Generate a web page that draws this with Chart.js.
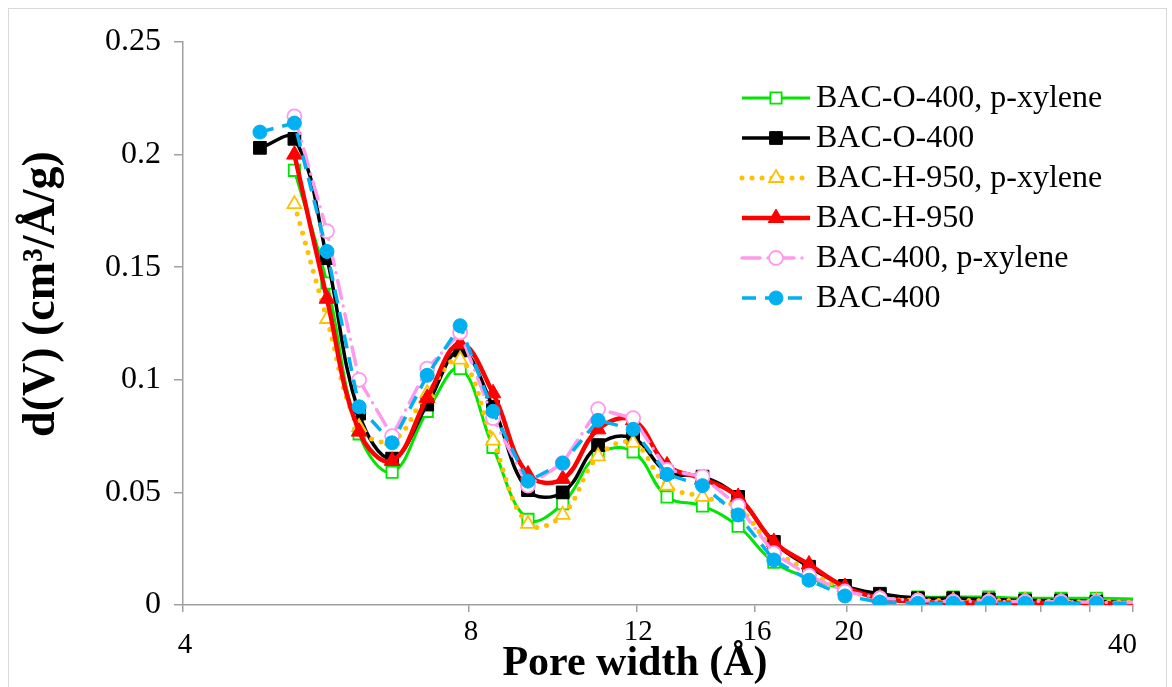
<!DOCTYPE html>
<html>
<head>
<meta charset="utf-8">
<script src="https://cdn.jsdelivr.net/npm/chart.js@4.4.1/dist/chart.umd.min.js"></script>
<style>
  body { margin: 0; background: #fff; }
  #wrap { position: relative; width: 1172px; height: 687px; overflow: hidden; }
  #frame { position: absolute; left: 8px; top: 8px; width: 1157px; height: 700px; border: 1px solid #d9d9d9; }
  #poreChart { position: absolute; left: 0; top: 0; }
</style>
</head>
<body>
<div id="wrap">
  <div id="frame"></div>
  <canvas id="poreChart" width="1172" height="687"></canvas>
</div>
<script>
// Pore widths (Å); the last point lies past 40 and gets clipped at the axis end
const poreWidth = [4.82, 5.24, 5.67, 6.13, 6.64, 7.23, 7.83, 8.48, 9.23, 10.04, 10.94, 11.91, 12.93,
  14.09, 15.36, 16.75, 18.24, 19.9, 21.66, 23.75, 25.87, 28.2, 30.8, 33.6, 36.6, 42];

// d(V) in cm3/Å/g for each sample
const bacO400Xylene = [null, 0.193, 0.143, 0.076, 0.059, 0.086, 0.105, 0.070, 0.038, 0.045, 0.067, 0.068, 0.048,
  0.044, 0.035, 0.019, 0.012, 0.007, 0.004, 0.0035, 0.0035, 0.0035, 0.003, 0.003, 0.003, 0.0025];
const bacO400 = [0.203, 0.207, 0.154, 0.085, 0.065, 0.089, 0.113, 0.088, 0.051, 0.050, 0.071, 0.074, 0.059,
  0.057, 0.048, 0.028, 0.017, 0.0085, 0.005, 0.003, 0.003, 0.0025, 0.002, 0.002, 0.0015, 0.001];
const bacH950Xylene = [null, 0.178, 0.127, 0.079, 0.073, 0.094, 0.109, 0.073, 0.036, 0.040, 0.066, 0.072, 0.053,
  0.048, 0.043, 0.025, 0.015, 0.007, 0.003, 0.002, 0.002, 0.002, 0.002, 0.0015, 0.0015, 0.001];
const bacH950 = [null, 0.200, 0.136, 0.077, 0.064, 0.092, 0.116, 0.094, 0.058, 0.056, 0.078, 0.082, 0.062,
  0.056, 0.048, 0.028, 0.018, 0.008, 0.003, 0.0015, 0.001, 0.001, 0.001, 0.0008, 0.0008, 0.0005];
const bac400Xylene = [null, 0.217, 0.166, 0.100, 0.075, 0.105, 0.121, 0.083, 0.053, 0.063, 0.087, 0.083, 0.060,
  0.057, 0.044, 0.023, 0.013, 0.006, 0.003, 0.002, 0.0015, 0.0015, 0.0015, 0.0015, 0.0012, 0.001];
const bac400 = [0.210, 0.214, 0.157, 0.088, 0.072, 0.102, 0.124, 0.086, 0.055, 0.063, 0.082, 0.078, 0.058,
  0.053, 0.040, 0.020, 0.011, 0.004, 0.0013, 0.0008, 0.0008, 0.0008, 0.0008, 0.0008, 0.0008, 0.0008];

const seriesNames = ['BAC-O-400, p-xylene', 'BAC-O-400', 'BAC-H-950, p-xylene', 'BAC-H-950', 'BAC-400, p-xylene', 'BAC-400'];

// axis ticks
const xTicks = [4, 8, 12, 16, 20, 24, 28, 32, 36, 40];
const xTickLabels = [4, 8, 12, 16, 20, 40];
const yTicks = [0, 0.05, 0.1, 0.15, 0.2, 0.25];

const serif = "'Liberation Serif', 'Times New Roman', serif";
Chart.defaults.font.family = serif;
Chart.defaults.color = '#000';

function points(values) {
  return poreWidth.map((x, i) => ({ x: x, y: values[i] }));
}

const datasets = [
  { label: seriesNames[0], data: points(bacO400Xylene), borderColor: '#00e600', borderWidth: 3,
    tension: 0.4, pointStyle: 'rect', pointRadius: 8, pointBorderWidth: 1.8,
    pointBorderColor: '#00e600', pointBackgroundColor: '#fff', order: 6 },
  { label: seriesNames[1], data: points(bacO400), borderColor: '#000', borderWidth: 3.5,
    tension: 0.4, pointStyle: 'rect', pointRadius: 9, pointBorderWidth: 1,
    pointBorderColor: '#000', pointBackgroundColor: '#000', order: 5 },
  { label: seriesNames[2], data: points(bacH950Xylene), borderColor: '#ffc000', borderWidth: 5,
    borderDash: [0, 10], borderCapStyle: 'round', tension: 0.4, pointStyle: 'triangle', pointRadius: 8,
    pointBorderWidth: 1.8, pointBorderColor: '#ffc000', pointBackgroundColor: '#fff', order: 4 },
  { label: seriesNames[3], data: points(bacH950), borderColor: '#ff0000', borderWidth: 4.5,
    tension: 0.4, pointStyle: 'triangle', pointRadius: 9, pointBorderWidth: 1,
    pointBorderColor: '#ff0000', pointBackgroundColor: '#ff0000', order: 3 },
  { label: seriesNames[4], data: points(bac400Xylene), borderColor: '#ff99ee', borderWidth: 3.5,
    borderDash: [18, 8, 0, 8], borderCapStyle: 'round', tension: 0, pointStyle: 'circle', pointRadius: 7,
    pointBorderWidth: 1.8, pointBorderColor: '#ff99ee', pointBackgroundColor: '#fff', order: 2 },
  { label: seriesNames[5], data: points(bac400), borderColor: '#00b0f0', borderWidth: 3.5,
    borderDash: [14, 9], tension: 0, pointStyle: 'circle', pointRadius: 7, pointBorderWidth: 1,
    pointBorderColor: '#00b0f0', pointBackgroundColor: '#00b0f0', order: 1 }
];

// same marker shapes as chart.js uses for its points
function marker(ctx, style, r, x, y) {
  ctx.beginPath();
  if (style === 'rect') {
    const s = Math.SQRT1_2 * r;
    ctx.rect(x - s, y - s, 2 * s, 2 * s);
  } else if (style === 'triangle') {
    let a = 0;
    ctx.moveTo(x + Math.sin(a) * r, y - Math.cos(a) * r);
    a += 2 * Math.PI / 3;
    ctx.lineTo(x + Math.sin(a) * r, y - Math.cos(a) * r);
    a += 2 * Math.PI / 3;
    ctx.lineTo(x + Math.sin(a) * r, y - Math.cos(a) * r);
    ctx.closePath();
  } else {
    ctx.arc(x, y, r, 0, 2 * Math.PI);
  }
  ctx.fill();
  ctx.stroke();
}

const legendRows = {
  id: 'legendRows',
  afterDraw(chart) {
    const ctx = chart.ctx;
    chart.data.datasets.forEach((ds, i) => {
      const y = 98 + i * 40;
      ctx.save();
      ctx.strokeStyle = ds.borderColor;
      ctx.lineWidth = ds.borderWidth;
      ctx.lineCap = ds.borderCapStyle || 'butt';
      ctx.setLineDash(ds.borderDash || []);
      ctx.beginPath();
      ctx.moveTo(742, y);
      ctx.lineTo(810, y);
      ctx.stroke();
      ctx.setLineDash([]);
      ctx.fillStyle = ds.pointBackgroundColor;
      ctx.strokeStyle = ds.pointBorderColor;
      ctx.lineWidth = ds.pointBorderWidth;
      marker(ctx, ds.pointStyle, ds.pointRadius, 776, y);
      ctx.fillStyle = '#000';
      ctx.font = '32px ' + serif;
      ctx.textBaseline = 'middle';
      ctx.textAlign = 'left';
      ctx.fillText(ds.label, 816, y + 1);
      ctx.restore();
    });
  }
};

// x labels and both axis titles
const axisText = {
  id: 'axisText',
  afterDraw(chart) {
    const ctx = chart.ctx;
    const xs = chart.scales.x;
    ctx.save();
    ctx.fillStyle = '#000';
    ctx.textBaseline = 'middle';
    ctx.font = '29px ' + serif;
    xTickLabels.forEach(v => {
      const px = xs.getPixelForValue(v);
      const end = v === xTickLabels[0] || v === xTickLabels[xTickLabels.length - 1];
      ctx.textAlign = v === 40 ? 'right' : 'center';
      ctx.fillText(String(v), v === 40 ? px + 4 : px + 2, end ? 645 : 632);
    });
    ctx.textAlign = 'center';
    ctx.font = 'bold 42px ' + serif;
    ctx.fillText('Pore width (Å)', 635, 664);
    ctx.translate(42, 294);
    ctx.rotate(-Math.PI / 2);
    ctx.font = 'bold 46px ' + serif;
    ctx.fillText('d(V) (cm³/Å/g)', 0, 0);
    ctx.restore();
  }
};

new Chart(document.getElementById('poreChart'), {
  type: 'line',
  data: { datasets: datasets },
  plugins: [legendRows, axisText],
  options: {
    responsive: false,
    animation: false,
    layout: { padding: { top: 42, right: 39, left: 0, bottom: 0 } },
    plugins: { legend: { display: false }, tooltip: { enabled: false } },
    scales: {
      x: {
        type: 'logarithmic',
        min: 4,
        max: 40,
        afterBuildTicks: scale => { scale.ticks = xTicks.map(v => ({ value: v })); },
        afterFit: scale => { scale.height = 82; },
        ticks: { display: false },
        grid: { drawOnChartArea: false, drawTicks: true, tickLength: 7, color: '#a0a0a0', lineWidth: 1.5 },
        border: { color: '#a0a0a0', width: 1.5 }
      },
      y: {
        min: 0,
        max: 0.25,
        afterBuildTicks: scale => { scale.ticks = yTicks.map(v => ({ value: v })); },
        afterFit: scale => { scale.width = 183; },
        ticks: {
          font: { size: 32 },
          padding: 13,
          callback: v => String(+v.toFixed(2))
        },
        grid: { drawOnChartArea: false, drawTicks: true, tickLength: 9, color: '#a0a0a0', lineWidth: 1.5 },
        border: { color: '#a0a0a0', width: 1.5 }
      }
    }
  }
});
</script>
</body>
</html>
